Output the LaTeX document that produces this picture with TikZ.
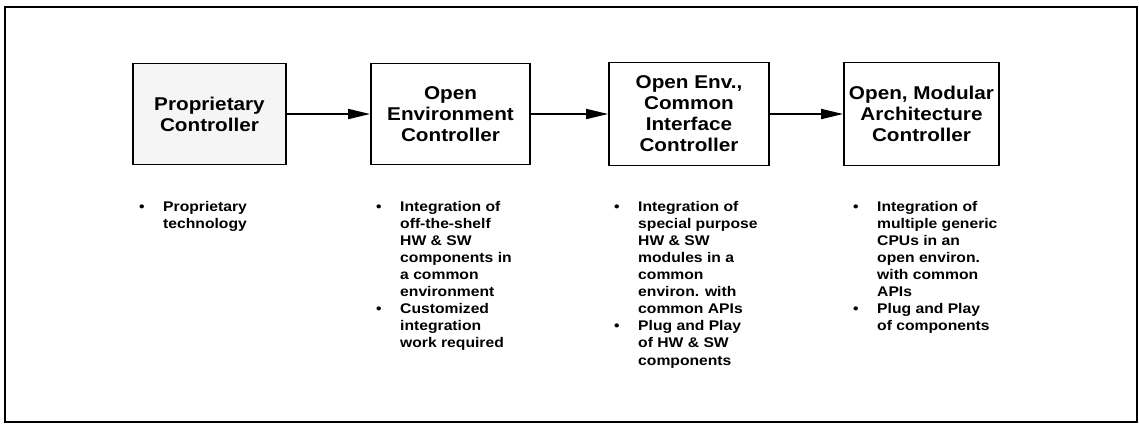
\documentclass[tikz,border=0pt]{standalone}
\usepackage{fontspec}
\setmainfont{Liberation Sans}
\newfontfamily\dfont[FakeStretch=1.12]{Liberation Sans}
\usetikzlibrary{arrows.meta}
\tikzset{
  stagebox/.style={draw, line width=1.8pt, inner sep=0pt, align=center,
    font=\dfont\bfseries\fontsize{18.5}{21}\selectfont},
  note/.style={anchor=north west, inner sep=0pt,
    font=\dfont\bfseries\fontsize{14}{17.1}\selectfont},
  conn/.style={line width=1.8pt, -{Triangle[length=22pt,width=10pt]}},
  frame/.style={line width=2.4pt}
}
\begin{document}
\begin{tikzpicture}[x=1pt,y=-1pt]
\useasboundingbox (0,0) rectangle (1139,424);
\draw[frame] (5,7) rectangle (1137,422);

\node[stagebox, fill=black!4, minimum width=153pt, minimum height=101pt] (b1) at (209.5,114) {Proprietary\\Controller};
\node[stagebox, minimum width=159pt, minimum height=101pt] (b2) at (450.5,114) {Open\\Environment\\Controller};
\node[stagebox, minimum width=160pt, minimum height=103pt] (b3) at (689,114) {Open Env.,\\Common\\Interface\\Controller};
\node[stagebox, minimum width=155pt, minimum height=103pt] (b4) at (921.5,114) {Open, Modular\\Architecture\\Controller};

\draw[conn] (b1) -- (b2);
\draw[conn] (b2) -- (b3);
\draw[conn] (b3) -- (b4);

\node[note] (n1) at (139,199) {\begin{tabular}{@{}p{24pt}@{}l@{}}
\textbullet & Proprietary\\
 & technology
\end{tabular}};

\node[note] (n2) at (376,199) {\begin{tabular}{@{}p{24pt}@{}l@{}}
\textbullet & Integration of\\
 & off-the-shelf\\
 & HW \& SW\\
 & components in\\
 & a common\\
 & environment\\
\textbullet & Customized\\
 & integration\\
 & work required
\end{tabular}};

\node[note] (n3) at (614,199) {\begin{tabular}{@{}p{24pt}@{}l@{}}
\textbullet & Integration of\\
 & special purpose\\
 & HW \& SW\\
 & modules in a\\
 & common\\
 & environ. with\\
 & common APIs\\
\textbullet & Plug and Play\\
 & of HW \& SW\\
 & components
\end{tabular}};

\node[note] (n4) at (853,199) {\begin{tabular}{@{}p{24pt}@{}l@{}}
\textbullet & Integration of\\
 & multiple generic\\
 & CPUs in an\\
 & open environ.\\
 & with common\\
 & APIs\\
\textbullet & Plug and Play\\
 & of components
\end{tabular}};
\end{tikzpicture}
\end{document}
